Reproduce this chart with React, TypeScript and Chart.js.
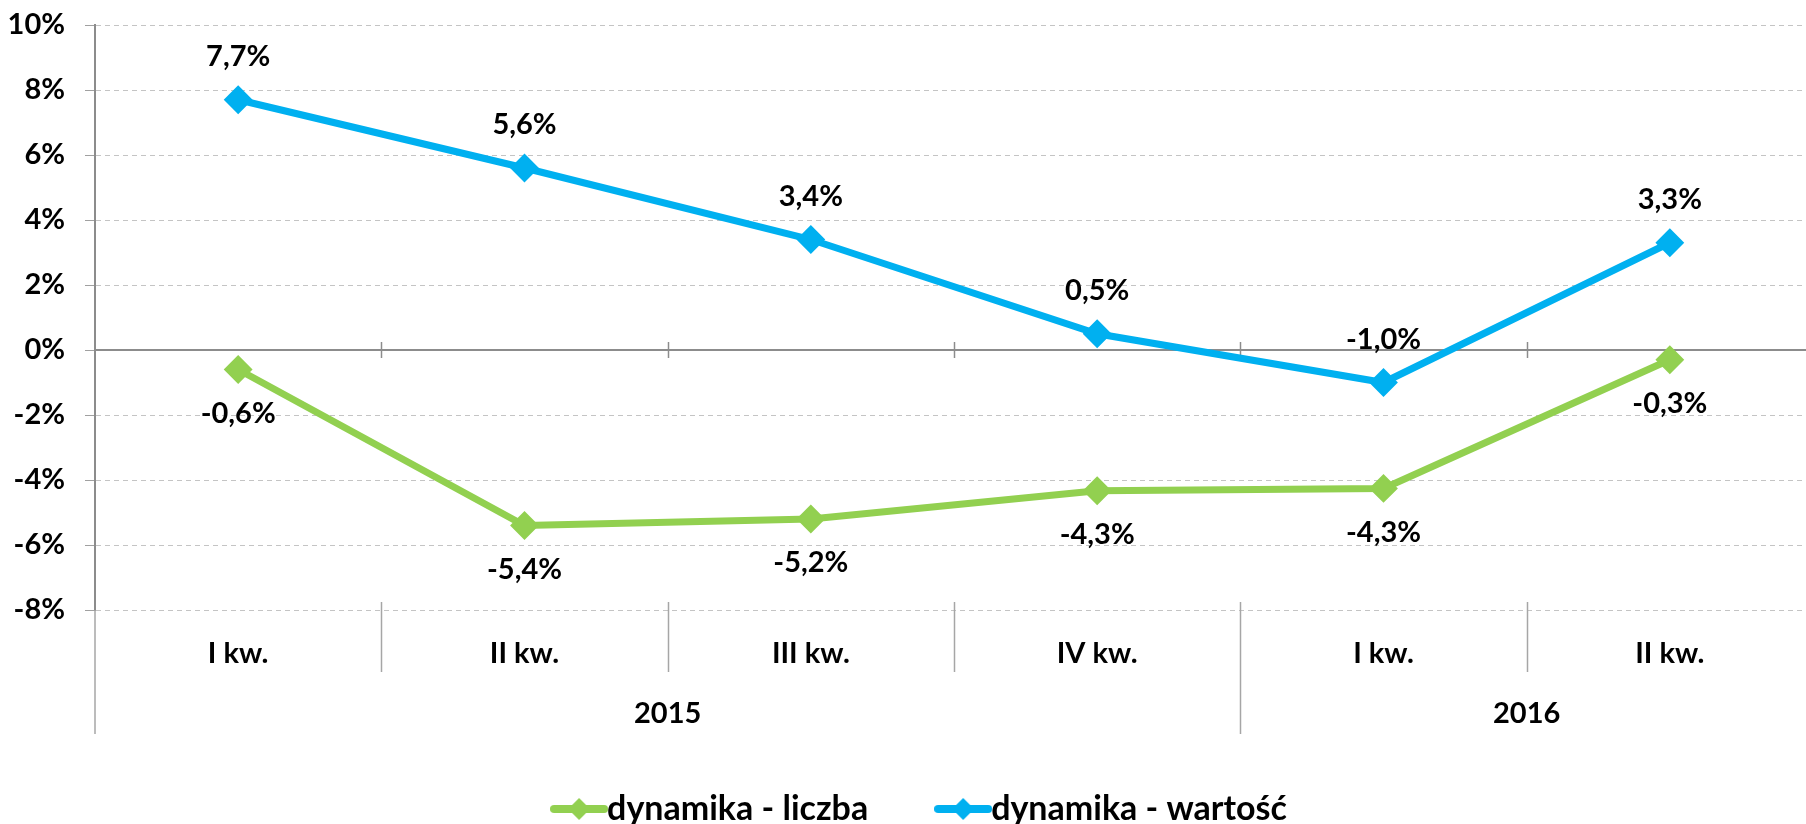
import React, { useEffect, useRef } from "react";
import { Chart, registerables } from "chart.js";

Chart.register(...registerables);

// ---- data ----
const quarters = ["I kw.", "II kw.", "III kw.", "IV kw.", "I kw.", "II kw."];
const years = ["2015", "2016"];
const yearSpans = [4, 2];
const seriesNames = ["dynamika - liczba", "dynamika - wartość"];
const liczba = [-0.6, -5.4, -5.2, -4.33, -4.26, -0.3];
const wartosc = [7.7, 5.6, 3.4, 0.5, -1.0, 3.3];
const yMin = -8;
const yMax = 10;
const yStep = 2;

const GREEN = "#92D050";
const BLUE = "#00B0F0";
const FONT = "Lato, 'Open Sans', sans-serif";
const TICK_SIZE = 29;
const LEGEND_SIZE = 34;
const W = 1828;
const H = 836;
const PLOT_TOP = 25;
const PLOT_BOTTOM = 610;

function makeLegendImage(color: string) {
  const c = document.createElement("canvas");
  c.width = 58;
  c.height = 28;
  const g = c.getContext("2d")!;
  g.strokeStyle = color;
  g.lineWidth = 8;
  g.lineCap = "round";
  g.beginPath();
  g.moveTo(4, 14);
  g.lineTo(54, 14);
  g.stroke();
  g.fillStyle = color;
  g.beginPath();
  g.moveTo(18, 14);
  g.lineTo(29, 3);
  g.lineTo(40, 14);
  g.lineTo(29, 25);
  g.closePath();
  g.fill();
  return c;
}

const fmt = (v: number) => v.toFixed(1).replace(".", ",") + "%";

const labelPlugin = {
  id: "valueLabels",
  afterDatasetsDraw(chart: any) {
    const ctx = chart.ctx;
    ctx.save();
    ctx.font = `bold ${TICK_SIZE}px ${FONT}`;
    ctx.fillStyle = "#000";
    ctx.textAlign = "center";
    ctx.textBaseline = "middle";
    chart.data.datasets.forEach((ds: any, i: number) => {
      const meta = chart.getDatasetMeta(i);
      meta.data.forEach((pt: any, j: number) => {
        ctx.fillText(fmt(ds.data[j]), pt.x, pt.y + ds.labelOffset);
      });
    });
    ctx.restore();
  },
};

const legendShiftPlugin = {
  id: "legendShift",
  afterLayout(chart: any) {
    if (chart.legend) chart.legend.left += 27;
  },
};

const axisPlugin = {
  id: "excelAxis",
  beforeDatasetsDraw(chart: any) {
    const { ctx, chartArea: a, scales } = chart;
    const x = scales.x;
    const y = scales.y;
    const y0 = y.getPixelForValue(0);
    const n = quarters.length;
    const w = x.getPixelForValue(1) - x.getPixelForValue(0);
    ctx.save();
    // zero line
    ctx.strokeStyle = "#8c8c8c";
    ctx.lineWidth = 2;
    ctx.beginPath();
    ctx.moveTo(a.left, y0);
    ctx.lineTo(a.right, y0);
    ctx.stroke();
    ctx.lineWidth = 1.5;
    for (let i = 1; i < n; i++) {
      const bx = Math.round(x.getPixelForValue(i) - w / 2) + 0.5;
      ctx.beginPath();
      ctx.moveTo(bx, y0 - 8);
      ctx.lineTo(bx, y0 + 8);
      ctx.stroke();
    }
    // bottom separators
    const yb = new Set<number>();
    let cum = 0;
    yearSpans.forEach((s) => {
      cum += s;
      yb.add(cum);
    });
    ctx.strokeStyle = "#a6a6a6";
    for (let i = 0; i <= n; i++) {
      const bx = i === 0 ? a.left : Math.round(x.getPixelForValue(i) - w / 2) + 0.5;
      const long = i === 0 || yb.has(i);
      ctx.beginPath();
      ctx.moveTo(bx, i === 0 ? a.bottom : a.bottom - 8);
      ctx.lineTo(bx, a.bottom + (long ? 124 : 62));
      ctx.stroke();
    }
    // year labels
    ctx.font = `bold ${TICK_SIZE}px ${FONT}`;
    ctx.fillStyle = "#000";
    ctx.textAlign = "center";
    ctx.textBaseline = "middle";
    let start = 0;
    years.forEach((yr, k) => {
      const end = start + yearSpans[k] - 1;
      const cx = (x.getPixelForValue(start) + x.getPixelForValue(end)) / 2;
      ctx.fillText(yr, cx, a.bottom + 104);
      start += yearSpans[k];
    });
    ctx.restore();
  },
};

export default function App() {
  const ref = useRef<HTMLCanvasElement>(null);
  useEffect(() => {
    if (!ref.current) return;
    const imgs = [makeLegendImage(GREEN), makeLegendImage(BLUE)];
    const chart = new Chart(ref.current, {
      type: "line",
      data: {
        labels: quarters,
        datasets: [
          {
            label: seriesNames[0],
            data: liczba,
            borderColor: GREEN,
            backgroundColor: GREEN,
            borderWidth: 7,
            pointStyle: "rectRot",
            pointRadius: 13,
            pointBorderWidth: 2,
            pointBorderColor: GREEN,
            pointBackgroundColor: GREEN,
            tension: 0,
            labelOffset: 44,
          } as any,
          {
            label: seriesNames[1],
            data: wartosc,
            borderColor: BLUE,
            backgroundColor: BLUE,
            borderWidth: 7,
            pointStyle: "rectRot",
            pointRadius: 13,
            pointBorderWidth: 2,
            pointBorderColor: BLUE,
            pointBackgroundColor: BLUE,
            tension: 0,
            labelOffset: -43,
          } as any,
        ],
      },
      options: {
        responsive: false,
        animation: false,
        layout: { padding: { left: 0, right: 0, top: PLOT_TOP, bottom: 0 } },
        plugins: {
          tooltip: { enabled: false },
          legend: {
            position: "bottom",
            labels: {
              usePointStyle: true,
              pointStyleWidth: 22,
              padding: 84,
              color: "#000",
              font: { family: FONT, size: LEGEND_SIZE, weight: "bold" },
              generateLabels: (chart: any) =>
                chart.data.datasets.map((ds: any, i: number) => ({
                  text: ds.label,
                  fillStyle: ds.borderColor,
                  strokeStyle: ds.borderColor,
                  lineWidth: 0,
                  pointStyle: imgs[i],
                  datasetIndex: i,
                  hidden: false,
                  fontColor: "#000",
                })),
            },
          },
        },
        scales: {
          x: {
            type: "category",
            offset: true,
            grid: { display: false },
            border: { display: false },
            ticks: {
              color: "#000",
              font: { family: FONT, size: TICK_SIZE, weight: "bold" },
              padding: 18,
              maxRotation: 0,
              autoSkip: false,
            },
            afterFit: (s: any) => {
              const lg = s.chart.legend;
              s.height = H - (lg ? lg.height : 0) - PLOT_BOTTOM;
              s.paddingLeft = 0;
              s.paddingRight = 0;
            },
          },
          y: {
            min: yMin,
            max: yMax,
            ticks: {
              stepSize: yStep,
              color: "#000",
              padding: 20,
              font: { family: FONT, size: TICK_SIZE, weight: "bold" },
              callback: (v: any) => v + "%",
            },
            grid: {
              color: (c: any) => (c.tick && c.tick.value === 0 ? "rgba(0,0,0,0)" : "#c4c4c4"),
              lineWidth: 1,
              tickLength: 10,
              tickColor: "#a0a0a0",
              tickBorderDash: [],
            },
            border: { display: true, color: "#8c8c8c", width: 2, dash: [5, 4] },
            afterFit: (s: any) => {
              s.width = 95;
              s.paddingTop = 0;
              s.paddingBottom = 0;
            },
          },
        },
      },
      plugins: [axisPlugin, labelPlugin, legendShiftPlugin],
    });
    return () => chart.destroy();
  }, []);
  return (
    <div
      style={{
        position: "fixed",
        left: 0,
        top: 0,
        width: 1806,
        height: 824,
        overflow: "hidden",
        background: "#fff",
      }}
    >
      <canvas ref={ref} width={W} height={H} style={{ display: "block", width: W, height: H }} />
    </div>
  );
}
